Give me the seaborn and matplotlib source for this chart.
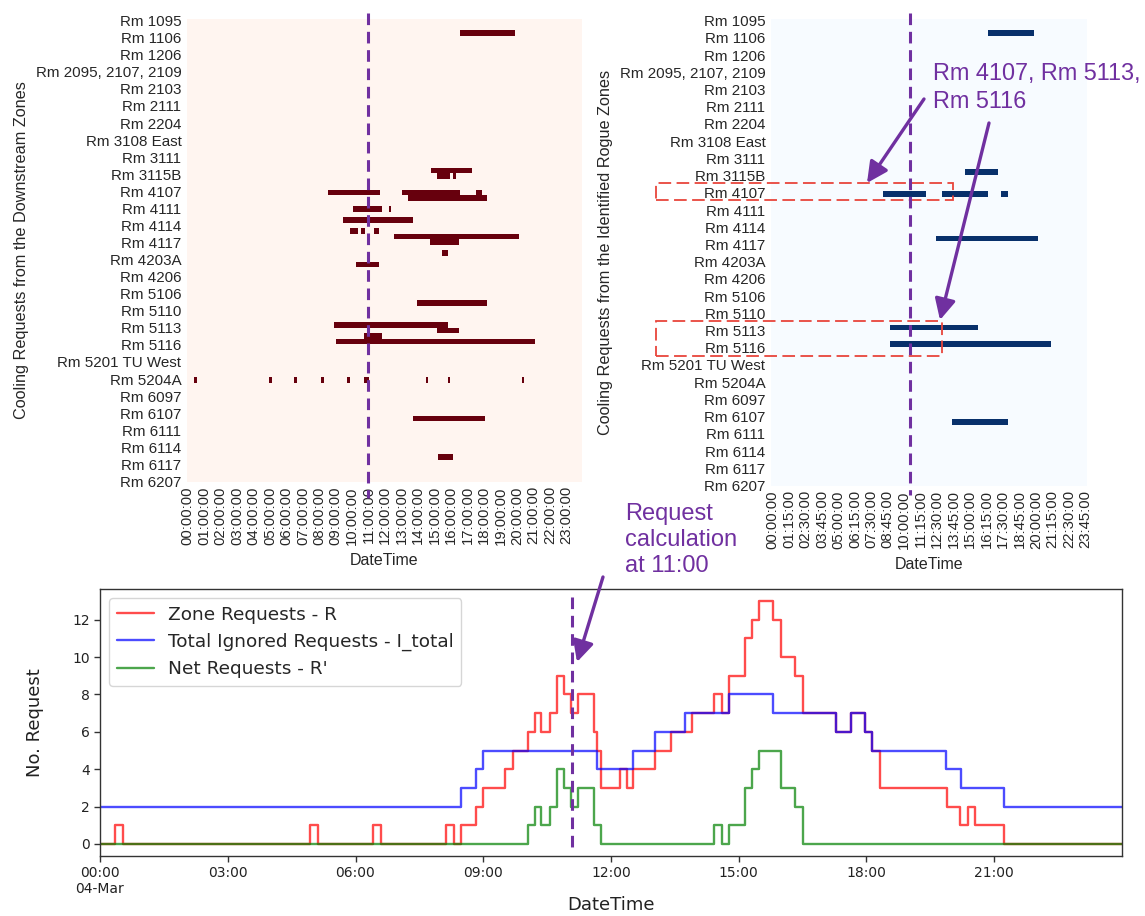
import numpy as np
import pandas as pd
import matplotlib
matplotlib.use("Agg")
import matplotlib.pyplot as plt
import seaborn as sns
from matplotlib.lines import Line2D
from matplotlib.patches import FancyArrowPatch, Rectangle
from matplotlib.font_manager import FontProperties

W, H = 1145, 916
PURPLE = "#7030a0"
BOX_RED = "#e8453c"
TEXT = "#262626"

ZONES = ["Rm 1095", "Rm 1106", "Rm 1206", "Rm 2095, 2107, 2109", "Rm 2103", "Rm 2111",
         "Rm 2204", "Rm 3108 East", "Rm 3111", "Rm 3115B", "Rm 4107", "Rm 4111", "Rm 4114",
         "Rm 4117", "Rm 4203A", "Rm 4206", "Rm 5106", "Rm 5110", "Rm 5113", "Rm 5116",
         "Rm 5201 TU West", "Rm 5204A", "Rm 6097", "Rm 6107", "Rm 6111", "Rm 6114",
         "Rm 6117", "Rm 6207"]
N_ROWS = 84

# one entry per request bar: heatmap row, start hour, end hour
REQ_ROW = [2, 27, 28, 28, 31, 31, 31, 32, 34, 34, 36, 38, 38, 38, 39, 40, 42, 44, 51,
           55, 56, 57, 58, 65, 65, 65, 65, 65, 65, 65, 65, 65, 72, 79]
REQ_START = [16.55, 14.8, 15.13, 16.18, 8.57, 13.06, 17.6, 13.41, 10.07, 12.21, 9.54,
             9.89, 10.57, 11.32, 12.56, 14.78, 15.48, 10.25, 13.97, 8.91, 15.13, 10.75,
             9.07, 0.38, 5.0, 6.5, 8.14, 9.72, 10.75, 14.48, 15.8, 20.35, 13.79, 15.29]
REQ_END = [19.9, 17.33, 15.98, 16.34, 11.73, 16.55, 17.92, 18.29, 11.81, 12.38, 13.79,
           10.39, 10.86, 11.65, 20.19, 16.51, 15.8, 11.65, 18.29, 15.8, 16.51, 11.81,
           21.2, 0.55, 5.16, 6.67, 8.31, 9.89, 11.12, 14.64, 15.96, 20.52, 18.1, 16.2]

ROGUE_ROWS = [2, 27, 31, 39, 55, 58, 72]

# step series (time of change in hours, value from then on)
R_T = [0, 0.35, 0.54, 4.93, 5.12, 6.41, 6.6, 8.13, 8.31, 8.48, 8.83, 9.0, 9.52, 9.69,
       10.04, 10.22, 10.36, 10.57, 10.73, 10.9, 11.05, 11.23, 11.59, 11.67, 11.77, 12.2,
       12.37, 12.52, 13.04, 13.4, 13.9, 14.42, 14.6, 14.78, 15.15, 15.31, 15.48, 15.81,
       15.99, 16.32, 16.5, 17.28, 17.63, 17.97, 18.14, 18.32, 19.88, 20.2, 20.39, 20.55,
       21.24, 24.0]
R_V = [0, 1, 0, 1, 0, 1, 0, 1, 0, 1, 2, 3, 4, 5, 6, 7, 6, 7, 9, 8, 7, 8, 6, 5, 3, 4, 3,
       4, 5, 6, 7, 8, 7, 9, 11, 12, 13, 12, 10, 9, 7, 6, 7, 6, 5, 3, 2, 1, 2, 1, 0, 0]
I_T = [0, 8.48, 8.82, 9.0, 11.67, 12.52, 13.04, 13.74, 14.78, 15.81, 17.28, 17.63,
       17.97, 18.14, 19.87, 20.21, 21.24, 24.0]
I_V = [2, 3, 4, 5, 4, 5, 6, 7, 8, 7, 6, 7, 6, 5, 4, 3, 2, 2]
N_T = [0, 10.04, 10.22, 10.36, 10.57, 10.73, 10.9, 11.05, 11.23, 11.59, 11.77, 14.42,
       14.6, 14.78, 15.15, 15.31, 15.48, 15.99, 16.32, 16.5, 24.0]
N_V = [0, 1, 2, 1, 2, 4, 3, 2, 3, 1, 0, 1, 0, 1, 3, 4, 5, 3, 2, 0, 0]

BOTTOM_TICKS = [0, 3, 6, 9, 12, 15, 18, 21]
BOTTOM_LABELS = ["00:00\n04-Mar", "03:00", "06:00", "09:00", "12:00", "15:00", "18:00", "21:00"]

sns.set_theme(style="white")
plt.rcParams["font.family"] = ["Liberation Sans", "DejaVu Sans"]
NARROW = ["Liberation Sans Narrow", "DejaVu Sans"]


def px(x, y):
    return x / W, 1 - y / H


def rect(x0, y0, x1, y1):
    return [x0 / W, 1 - y1 / H, (x1 - x0) / W, (y1 - y0) / H]


def request_matrix(step_min, rows):
    n_cols = 24 * 60 // step_min
    cols = pd.date_range("2019-03-04", periods=n_cols, freq=f"{step_min}min").strftime("%H:%M:%S")
    mat = np.zeros((N_ROWS, n_cols))
    per_hour = 60 / step_min
    for r, s, e in zip(REQ_ROW, REQ_START, REQ_END):
        if r in rows:
            mat[r, int(round(s * per_hour)):int(round(e * per_hour))] = 1
    return pd.DataFrame(mat, columns=cols)


def draw_heatmap(ax, df, cmap, every, ylabel):
    sns.heatmap(df, cmap=cmap, vmin=0, vmax=1, cbar=False, ax=ax,
                xticklabels=every, yticklabels=False)
    ax.set_yticks(np.linspace(0.3, N_ROWS - 0.1, len(ZONES)))
    ax.set_yticklabels(ZONES, rotation=0, fontsize=10.9, color=TEXT)
    ax.tick_params(axis="x", labelrotation=90, labelsize=10.7, labelcolor=TEXT, length=0, pad=3)
    ax.tick_params(axis="y", length=0, pad=4)
    ax.set_xlabel("DateTime", fontsize=11.5, color=TEXT, labelpad=6)
    ax.set_ylabel(ylabel, fontsize=11.7, color=TEXT, labelpad=5)


fig = plt.figure(figsize=(W / 100, H / 100), dpi=100)

ax1 = fig.add_axes(rect(187, 19, 582, 482))
draw_heatmap(ax1, request_matrix(5, set(REQ_ROW)), "Reds", 12,
             "Cooling Requests from the Downstream Zones")

ax2 = fig.add_axes(rect(771, 19, 1087, 486))
draw_heatmap(ax2, request_matrix(15, set(ROGUE_ROWS)), "Blues", 5,
             "Cooling Requests from the Identified Rogue Zones")

# bottom panel: request counts
ax3 = fig.add_axes(rect(100, 589, 1122, 856))
series = [(R_T, R_V, "red", "Zone Requests - R"),
          (I_T, I_V, "blue", "Total Ignored Requests - I_total"),
          (N_T, N_V, "green", "Net Requests - R'")]
for t, v, c, lab in series:
    sns.lineplot(x=t, y=v, ax=ax3, color=c, alpha=0.7, lw=1.7, drawstyle="steps-post",
                 label=lab, estimator=None, sort=False)
ax3.set_xlim(0, 24)
ax3.set_ylim(-0.65, 13.65)
ax3.set_yticks([0, 2, 4, 6, 8, 10, 12])
ax3.set_xticks(BOTTOM_TICKS)
ax3.set_xticklabels(BOTTOM_LABELS, linespacing=1.1)
ax3.tick_params(bottom=True, left=True, direction="out", length=4, width=1, color="#333333",
                labelsize=10, labelcolor="#222222")
for lab in ax3.get_xticklabels() + ax3.get_yticklabels():
    lab.set_fontfamily(NARROW)
for sp in ax3.spines.values():
    sp.set_color("#333333")
    sp.set_linewidth(1)
ax3.set_xlabel("DateTime", fontsize=13, family="DejaVu Sans", color="#222222", labelpad=0)
ax3.set_ylabel("No. Request", fontsize=13, family="DejaVu Sans", color="#222222", labelpad=20)
ax3.legend(loc="upper left", prop=FontProperties(family="DejaVu Sans", size=13.3),
           frameon=True, fancybox=True, edgecolor="#cccccc")

# overlay annotations
for x, y0, y1 in [(368, 13, 498), (910, 13, 495), (571.7, 597, 853)]:
    fig.add_artist(Line2D([x / W, x / W], [1 - y0 / H, 1 - y1 / H], transform=fig.transFigure,
                          color=PURPLE, lw=2.2, dashes=(3.8, 2.2)))

for x0, y0, x1, y1 in [(656, 183, 953, 200), (656, 321, 942, 356)]:
    fig.add_artist(Rectangle(px(x0, y1), (x1 - x0) / W, (y1 - y0) / H, transform=fig.transFigure,
                             fill=False, ec=BOX_RED, lw=1.3, ls=(0, (7, 3))))

for a, b in [((924, 99), (867, 183)), ((989, 123), (940, 320)), ((603, 577), (577, 662))]:
    fig.add_artist(FancyArrowPatch(px(*a), px(*b), transform=fig.transFigure,
                                   arrowstyle="-|>,head_length=0.9,head_width=0.45",
                                   mutation_scale=14, lw=2.4, color=PURPLE,
                                   shrinkA=0, shrinkB=0))

fig.text(*px(933, 62), "Rm 4107, Rm 5113,\nRm 5116", color=PURPLE, fontsize=16.9,
         va="top", ha="left", linespacing=1.25)
fig.text(*px(625, 503), "Request\ncalculation\nat 11:00", color=PURPLE, fontsize=17,
         va="top", ha="left", linespacing=1.25)

fig.savefig("out.png", dpi=100)
